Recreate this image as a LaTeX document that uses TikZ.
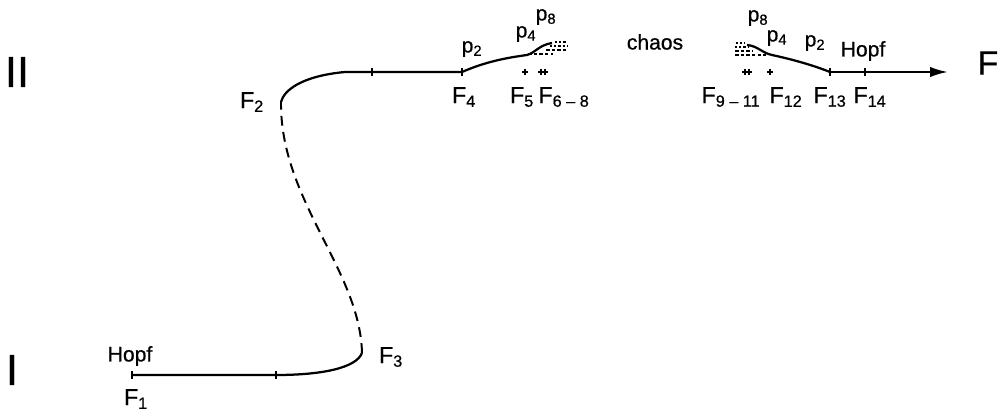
\documentclass[tikz,border=0pt]{standalone}
\usepackage{fontspec}
\setmainfont{Liberation Sans}[FakeBold=0.6]
\usetikzlibrary{arrows.meta}

\begin{document}
\begin{tikzpicture}[x=0.025cm,y=-0.025cm,
    lbl/.style={inner sep=0pt,font=\fontsize{16.5}{19}\selectfont},
    plbl/.style={inner sep=0pt,font=\fontsize{15}{17}\selectfont},
    branch/.style={line width=1.6pt},
    unstable/.style={line width=1.4pt,dash pattern=on 7pt off 4.5pt},
    tickmark/.style={line width=0.9pt},
    fuzz/.style={line width=1pt,dash pattern=on 2.5pt off 1.5pt}]
  \useasboundingbox (0,0) rectangle (1004,418);

  \node (lowI)  at (12,370)  {\fontsize{31}{34}\selectfont I};
  \node (highII) at (17,72)  {\fontsize{31}{34}\selectfont II};
  \node (faxis) at (988,63)  {\fontsize{24}{27}\selectfont F};

  \coordinate (f1)  at (132,375);
  \coordinate (t1)  at (276,375);
  \coordinate (f3)  at (362,353);
  \coordinate (f2)  at (281,102);
  \coordinate (t2)  at (372,72);
  \coordinate (f4)  at (462,72);
  \coordinate (pd4) at (527,55);
  \coordinate (pd8) at (552,43);
  \coordinate (qd8) at (747,45);
  \coordinate (qd4) at (772,55);
  \coordinate (f13) at (830,72);
  \coordinate (f14) at (865,72);
  \coordinate (fend) at (948,72);

  \node[lbl] (F1)  at (136,399) {F\textsubscript{1}};
  \node[plbl] (hopfA) at (130,356) {Hopf};
  \node[lbl] (F3)  at (391,357) {F\textsubscript{3}};
  \node[lbl] (F2)  at (252,102) {F\textsubscript{2}};
  \node[lbl] (F4)  at (464,97)  {F\textsubscript{4}};
  \node[lbl] (F5)  at (522,97)  {F\textsubscript{5}};
  \node[lbl] (F68) at (564,97)  {F\textsubscript{6 -- 8}};
  \node[lbl] (F911) at (731,97) {F\textsubscript{9 -- 11}};
  \node[lbl] (F12) at (786,97)  {F\textsubscript{12}};
  \node[lbl] (F13) at (830,97)  {F\textsubscript{13}};
  \node[lbl] (F14) at (870,97)  {F\textsubscript{14}};

  \node[plbl] (pA2) at (472,49) {p\textsubscript{2}};
  \node[plbl] (pA4) at (526,34) {p\textsubscript{4}};
  \node[plbl] (pA8) at (546,17) {p\textsubscript{8}};
  \node[plbl] (chaos) at (655,42) {chaos};
  \node[plbl] (pB8) at (758,18) {p\textsubscript{8}};
  \node[plbl] (pB4) at (777,38) {p\textsubscript{4}};
  \node[plbl] (pB2) at (815,43) {p\textsubscript{2}};
  \node[plbl] (hopfB) at (863,51) {Hopf};

  \draw[branch] (f1) -- (t1) .. controls (322,375) and (356,368) .. (f3);
  \draw[unstable] (f3) .. controls (360,270) and (280,200) .. (f2);
  \draw[branch] (f2) .. controls (284,90) and (302,76) .. (345,72) -- (t2) -- (f4)
    .. controls (485,62) and (505,58) .. (pd4)
    .. controls (535,53) and (539,45) .. (pd8);
  \draw[branch] (qd8) .. controls (758,46) and (762,53) .. (qd4)
    .. controls (795,60) and (815,66) .. (f13);
  \draw[branch,-{Latex[length=0.45cm,width=0.26cm]}] (f13) -- (f14) -- (fend);

  \foreach \p in {f1,t1,t2,f4,f13,f14}
    \draw[tickmark] ([yshift=2.5pt]\p) -- ([yshift=-2.5pt]\p);

  \draw[fuzz] (528,54) -- (553,54);
  \draw[fuzz] (546,50) -- (566,50);
  \draw[fuzz,dash pattern=on 1.5pt off 1.5pt] (550,46) -- (568,46);
  \draw[fuzz,dash pattern=on 1.5pt off 1.5pt] (555,42) -- (567,42);
  \draw[fuzz] (735,55) -- (766,55);
  \draw[fuzz] (735,51) -- (753,51);
  \draw[fuzz,dash pattern=on 1.5pt off 1.5pt] (735,47) -- (749,47);
  \draw[fuzz,dash pattern=on 1.5pt off 1.5pt] (736,43) -- (745,43);

  \draw[tickmark] (522,72) -- (528,72) (525,69) -- (525,75);
  \draw[tickmark] (538,72) -- (548,72) (541,69) -- (541,75) (545,69) -- (545,75);
  \draw[tickmark] (742,72) -- (752,72) (745,69) -- (745,75) (749,69) -- (749,75);
  \draw[tickmark] (767,72) -- (773,72) (770,69) -- (770,75);
\end{tikzpicture}
\end{document}
